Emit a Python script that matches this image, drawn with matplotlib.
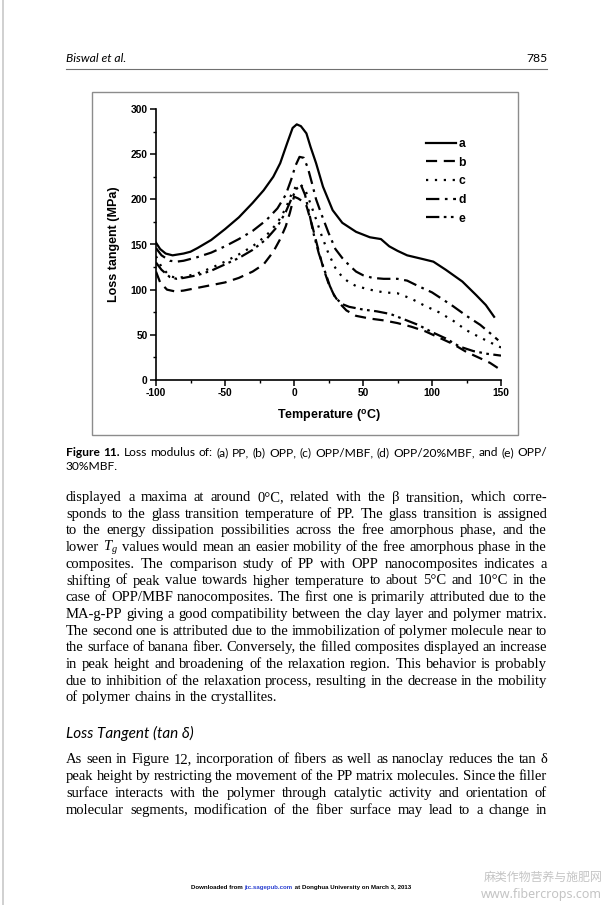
import matplotlib
matplotlib.use("Agg")
from matplotlib import pyplot as plt
from matplotlib.font_manager import FontProperties
from matplotlib.patches import Rectangle
from matplotlib.lines import Line2D

plt.rcParams['mathtext.fontset'] = 'custom'
plt.rcParams['mathtext.rm'] = 'Liberation Serif'
plt.rcParams['mathtext.it'] = 'Liberation Serif:italic'
plt.rcParams['mathtext.bf'] = 'Liberation Sans:bold'
plt.rcParams['axes.unicode_minus'] = False

W, H = 603, 905

# ---- data (temperature in C, loss value in MPa) ----
a_x = [-100, -97, -93, -88, -80, -75, -70, -60, -50, -40, -30, -22, -15, -10, -5, -1, 2, 5, 9, 12, 16, 21, 28, 35, 45, 55, 63, 69, 75, 82, 93, 101, 110, 122, 132, 139, 145]
a_y = [152, 145, 140, 138, 140, 142, 146, 155, 167, 180, 196, 210, 225, 240, 262, 279, 283, 281, 273, 258, 240, 214, 188, 174, 164, 158, 156, 148, 143, 138, 134, 131, 122, 109, 94, 83, 70]

b_x = [-100, -97, -92, -86, -80, -70, -60, -50, -40, -30, -22, -15, -10, -6, -3, 0, 3, 6, 9, 13, 17, 21, 25, 29, 33, 38, 45, 55, 65, 75, 85, 95, 105, 115, 125, 135, 142, 148]
b_y = [120, 108, 100, 98, 99, 102, 105, 108, 113, 120, 128, 142, 156, 170, 185, 203, 201, 198, 193, 172, 148, 125, 107, 94, 85, 77, 71, 68, 66, 63, 59, 54, 47, 40, 31, 24, 19, 13]

c_x = [-100, -96, -90, -85, -80, -70, -60, -50, -40, -30, -20, -12, -6, -2, 2, 5, 8, 12, 16, 20, 25, 30, 35, 40, 45, 55, 65, 75, 85, 95, 105, 115, 125, 135, 143, 150]
c_y = [137, 125, 115, 113, 114, 118, 124, 131, 139, 148, 160, 174, 190, 205, 216, 216, 211, 195, 178, 160, 140, 124, 114, 108, 104, 100, 97, 96, 90, 82, 75, 66, 55, 47, 41, 36]

d_x = [-100, -96, -90, -85, -80, -70, -60, -50, -40, -30, -20, -12, -6, -2, 1, 4, 7, 10, 13, 16, 20, 25, 30, 35, 40, 45, 50, 57, 65, 75, 82, 90, 100, 108, 115, 125, 135, 142, 148]
d_y = [146, 138, 132, 131, 132, 136, 141, 148, 156, 165, 177, 190, 205, 222, 237, 247, 246, 235, 218, 200, 183, 163, 145, 135, 127, 120, 116, 113, 112, 112, 110, 104, 97, 89, 82, 71, 61, 52, 44]

e_x = [-100, -96, -90, -85, -80, -70, -60, -50, -40, -30, -20, -12, -6, -2, 2, 5, 8, 11, 14, 18, 22, 26, 30, 35, 40, 50, 60, 70, 80, 90, 100, 110, 120, 130, 140, 150]
e_y = [130, 122, 114, 112, 113, 116, 121, 128, 135, 144, 156, 170, 186, 200, 212, 216, 205, 185, 163, 140, 122, 104, 91, 84, 81, 78, 76, 73, 67, 61, 53, 46, 37, 32, 29, 27]

labels = ['a', 'b', 'c', 'd', 'e']
x_ticks = [-100, -50, 0, 50, 100, 150]
y_ticks = [0, 50, 100, 150, 200, 250, 300]

header_left = "Biswal et al."
header_right = "785"
caption_1 = "Figure 11. Loss modulus of: (a) PP, (b) OPP, (c) OPP/MBF, (d) OPP/20%MBF, and (e) OPP/"
caption_2 = "30%MBF."
body_1 = [
    "displayed a maxima at around 0°C, related with the β transition, which corre-",
    "sponds to the glass transition temperature of PP. The glass transition is assigned",
    "to the energy dissipation possibilities across the free amorphous phase, and the",
    "lower $T_g$ values would mean an easier mobility of the free amorphous phase in the",
    "composites. The comparison study of PP with OPP nanocomposites indicates a",
    "shifting of peak value towards higher temperature to about 5°C and 10°C in the",
    "case of OPP/MBF nanocomposites. The first one is primarily attributed due to the",
    "MA-g-PP giving a good compatibility between the clay layer and polymer matrix.",
    "The second one is attributed due to the immobilization of polymer molecule near to",
    "the surface of banana fiber. Conversely, the filled composites displayed an increase",
    "in peak height and broadening of the relaxation region. This behavior is probably",
    "due to inhibition of the relaxation process, resulting in the decrease in the mobility",
    "of polymer chains in the crystallites.",
]
heading = "Loss Tangent (tan δ)"
body_2 = [
    "As seen in Figure 12, incorporation of fibers as well as nanoclay reduces the tan δ",
    "peak height by restricting the movement of the PP matrix molecules. Since the filler",
    "surface interacts with the polymer through catalytic activity and orientation of",
    "molecular segments, modification of the fiber surface may lead to a change in",
]

fig = plt.figure(figsize=(W / 100, H / 100), dpi=100)
renderer = fig.canvas.get_renderer()

X0, X1 = 66, 547
TIGHT = 0.8   # narrowest word space allowed in body text, as a share of a normal space


def fx(x):
    return x / W


def fy(y):
    return 1 - y / H


def width(s, fp):
    w, h, d = renderer.get_text_width_height_descent(s, fp, ismath=('$' in s))
    return w


def natural(words, k=1.0):
    return sum(width(t, fp) for t, fp in words) + k * sum(width(' ', fp) for t, fp in words[1:])


def put_line(words, y, justify=True, x0=X0, x1=X1):
    ws = [width(t, fp) for t, fp in words]
    if justify and len(words) > 1:
        gap = (x1 - x0 - sum(ws)) / (len(words) - 1)
    else:
        gap = width(' ', words[0][1])
    x = x0
    for (t, fp), w in zip(words, ws):
        fig.text(fx(x), fy(y), t, fontproperties=fp, va='baseline', ha='left')
        x += w + gap


def fit_size(lines, family, base=10.0):
    fp = FontProperties(family=family, size=base)
    widest = max(natural([(w, fp) for w in ln.split(' ')], TIGHT) for ln in lines)
    return base * (X1 - X0) / widest


body_size = fit_size(body_1[:-1] + body_2, 'Liberation Serif')
serif = FontProperties(family='Liberation Serif', size=body_size)

cap_fam = ['Lato', 'DejaVu Sans']
cap_probe = [(w, FontProperties(family=cap_fam, size=10, weight='bold' if i < 2 else 'normal'))
             for i, w in enumerate(caption_1.split(' '))]
cap_size = 10 * (X1 - X0) / natural(cap_probe, 1.15)
sans_cap = FontProperties(family=cap_fam, size=cap_size)
sans_cap_b = FontProperties(family=cap_fam, size=cap_size, weight='bold')
sans_head = FontProperties(family=cap_fam, size=8.7, style='italic')
sans_num = FontProperties(family=cap_fam, size=8.7)
head2 = FontProperties(family=cap_fam, size=11, style='italic')

# page edge of the scan
fig.add_artist(Line2D([fx(2.5), fx(2.5)], [0, 1], color='#c8c8c8', lw=1.2))

# running header
fig.text(fx(66), fy(62), header_left, fontproperties=sans_head, va='baseline')
fig.text(fx(547), fy(62), header_right, fontproperties=sans_num, va='baseline', ha='right')
fig.add_artist(Line2D([fx(66), fx(547)], [fy(69), fy(69)], color='#707070', lw=0.8))

# frame around the figure
fig.add_artist(Rectangle((fx(92), fy(435)), fx(518) - fx(92), fy(92) - fy(435),
                         fill=False, edgecolor='#8c8c8c', lw=1.0))

# ---- chart ----
ax = fig.add_axes([fx(156), fy(380), fx(501) - fx(156), fy(109) - fy(380)])
ax.plot(a_x, a_y, color='black', lw=1.6, ls='-', label=labels[0])
ax.plot(b_x, b_y, color='black', lw=1.6, ls=(0, (5, 3)), label=labels[1])
ax.plot(c_x, c_y, color='black', lw=1.6, ls=(0, (1, 3)), label=labels[2])
ax.plot(d_x, d_y, color='black', lw=1.6, ls=(0, (6, 2.5, 1.2, 2.5)), label=labels[3])
ax.plot(e_x, e_y, color='black', lw=1.6, ls=(0, (6, 2, 1.2, 2, 1.2, 2)), label=labels[4])

ax.set_xlim(-100, 150)
ax.set_ylim(0, 300)
ax.set_xticks(x_ticks)
ax.set_yticks(y_ticks)
ax.set_xticks([-75, -25, 25, 75, 125], minor=True)
ax.set_yticks([25, 75, 125, 175, 225, 275], minor=True)
ax.spines['top'].set_visible(False)
ax.spines['right'].set_visible(False)
for s in ['left', 'bottom']:
    ax.spines[s].set_linewidth(1.2)
ax.tick_params(which='major', direction='out', length=4, width=1.1, pad=2)
ax.tick_params(which='minor', direction='out', length=2.2, width=1.0)
tick_fp = FontProperties(family='Liberation Sans', weight='bold', size=7.4)
for lab in ax.get_xticklabels() + ax.get_yticklabels():
    lab.set_fontproperties(tick_fp)
ax.set_xlabel(r'Temperature ($^{\mathbf{o}}$C)', fontproperties=FontProperties(
    family='Liberation Sans', weight='bold', size=9), labelpad=7)
ax.set_ylabel('Loss tangent (MPa)', fontproperties=FontProperties(
    family='Liberation Sans', weight='bold', size=9), labelpad=8)

leg = ax.legend(loc='upper left', bbox_to_anchor=(fx(420), fy(132)), bbox_transform=fig.transFigure,
                frameon=False, handlelength=2.5, handletextpad=0.2, labelspacing=0.55,
                borderpad=0, prop=FontProperties(family='Liberation Sans', weight='bold', size=8.7))

# ---- caption ----
put_line([(w, sans_cap_b if i < 2 else sans_cap) for i, w in enumerate(caption_1.split(' '))], 456)
put_line([(caption_2, sans_cap)], 470, justify=False)

# ---- body text ----
y0 = 501
for i, line in enumerate(body_1):
    put_line([(w, serif) for w in line.split(' ')], y0 + i * 16.7, justify=(i < len(body_1) - 1))

fig.text(fx(66), fy(738), heading, fontproperties=head2, va='baseline')
for i, line in enumerate(body_2):
    put_line([(w, serif) for w in line.split(' ')], 763 + i * 16.9, justify=True)

# ---- footer ----
foot_fp = FontProperties(family='Liberation Sans', weight='bold', size=4.4)
parts = [("Downloaded from ", 'black'), ("jtc.sagepub.com", '#2a3fd0'),
         (" at Donghua University on March 3, 2013", 'black')]
tot = sum(width(p, foot_fp) for p, c in parts)
x = 301 - tot / 2
for p, c in parts:
    fig.text(fx(x), fy(889), p, fontproperties=foot_fp, color=c, va='baseline')
    x += width(p, foot_fp)

# watermark
fig.text(fx(602), fy(877), "麻类作物营养与施肥网", family=['Noto Sans CJK SC', 'DejaVu Sans'],
         fontsize=8.6, color='#c4c4c4', ha='right', va='center')
fig.text(fx(602), fy(894), "www.fibercrops.com", family=['Noto Sans', 'DejaVu Sans'],
         fontsize=9, color='#c4c4c4', ha='right', va='center')

fig.savefig('out.png', dpi=100)
